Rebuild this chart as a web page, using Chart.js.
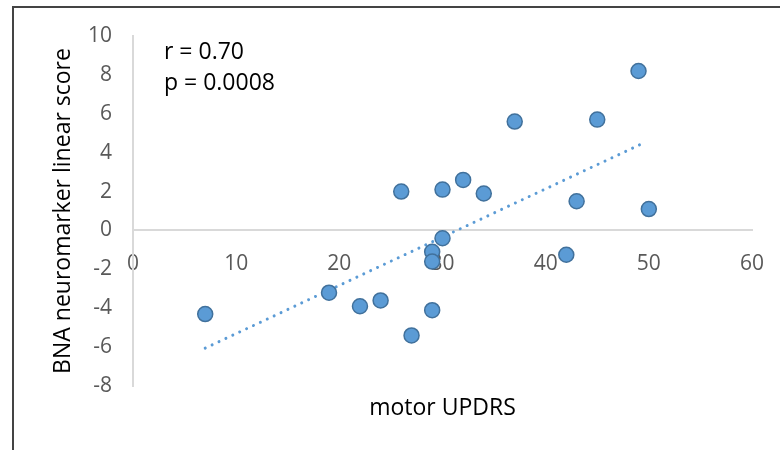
<!DOCTYPE html>
<html>
<head>
<meta charset="utf-8">
<script src="https://cdn.jsdelivr.net/npm/chart.js@4.4.1/dist/chart.umd.min.js"></script>
<style>
  html, body { margin: 0; padding: 0; background: #fff; }
  #lienzo { position: relative; width: 780px; height: 450px; overflow: hidden; }
  #marco { position: absolute; left: 12px; top: 6px; width: 820px; height: 500px;
           border-top: 2px solid #444; border-left: 2px solid #444; }
  canvas { position: absolute; left: 0; top: 0; }
</style>
</head>
<body>
<div id="lienzo">
  <div id="marco"></div>
  <canvas id="grafico" width="780" height="450"></canvas>
</div>
<script>
// Datos
const motorUPDRS = [7, 19, 22, 24, 26, 27, 29, 29, 29, 30, 30, 32, 34, 37, 42, 43, 45, 49, 50];
const puntajeBNA = [-4.3, -3.2, -3.9, -3.6, 2.0, -5.4, -1.1, -1.6, -4.1, 2.1, -0.4, 2.6, 1.9, 5.6, -1.25, 1.5, 5.7, 8.2, 1.1];
const tendenciaX = [7, 49.5];
const tendenciaY = [-6.05, 4.5];
const notas = ['r = 0.70', 'p = 0.0008'];

const puntos = motorUPDRS.map((x, i) => ({x, y: puntajeBNA[i]}));
const tendencia = tendenciaX.map((x, i) => ({x, y: tendenciaY[i]}));

const fuente = 'Open Sans';
const grisTick = '#595959';
const grisEje = '#D9D9D9';

// Texto r / p arriba a la izquierda
const pluginNotas = {
  id: 'notas',
  afterDraw(chart) {
    const ctx = chart.ctx;
    ctx.save();
    ctx.fillStyle = '#000';
    ctx.font = `23px "${fuente}"`;
    ctx.textAlign = 'left';
    ctx.textBaseline = 'alphabetic';
    ctx.fillText(notas[0], 164, 59);
    ctx.fillText(notas[1], 164, 90);
    ctx.restore();
  }
};

new Chart(document.getElementById('grafico'), {
  type: 'scatter',
  data: {
    datasets: [
      {
        label: 'BNA',
        data: puntos,
        backgroundColor: '#5B9BD5',
        borderColor: '#41719C',
        borderWidth: 1.5,
        pointRadius: 7.5,
        pointHoverRadius: 7.5
      },
      {
        label: 'Tendencia',
        data: tendencia,
        showLine: true,
        borderColor: '#5B9BD5',
        borderWidth: 3,
        borderDash: [0.01, 7.6],
        borderCapStyle: 'round',
        pointRadius: 0,
        fill: false
      }
    ]
  },
  options: {
    responsive: false,
    animation: false,
    layout: { padding: { top: 36, bottom: 64, right: 28, left: 0 } },
    plugins: { legend: { display: false }, tooltip: { enabled: false } },
    scales: {
      x: {
        type: 'linear',
        position: { y: 0 },
        min: 0, max: 60,
        ticks: { stepSize: 10, color: grisTick, font: { family: fuente, size: 21 }, padding: 21 },
        grid: { display: true, drawOnChartArea: false, drawTicks: false },
        border: { color: grisEje, width: 2 },
        title: { display: true, text: 'motor UPDRS', color: '#000', font: { family: fuente, size: 23 }, padding: { top: 0, bottom: 0 } },
        // el título va abajo del todo y el eje no debe achicar el área
        afterFit(scale) { scale.height = 192; scale.paddingRight = 0; scale.paddingLeft = 0; }
      },
      y: {
        min: -8, max: 10,
        ticks: { stepSize: 2, color: grisTick, font: { family: fuente, size: 21 }, padding: 21 },
        grid: { display: true, drawOnChartArea: false, drawTicks: false },
        border: { color: grisEje, width: 2 },
        title: { display: true, text: 'BNA neuromarker linear score', color: '#000', font: { family: fuente, size: 23 }, padding: { top: 50, bottom: 0 } },
        afterFit(scale) { scale.width = 133; scale.paddingTop = 0; scale.paddingBottom = 0; }
      }
    }
  },
  plugins: [pluginNotas]
});
</script>
</body>
</html>
